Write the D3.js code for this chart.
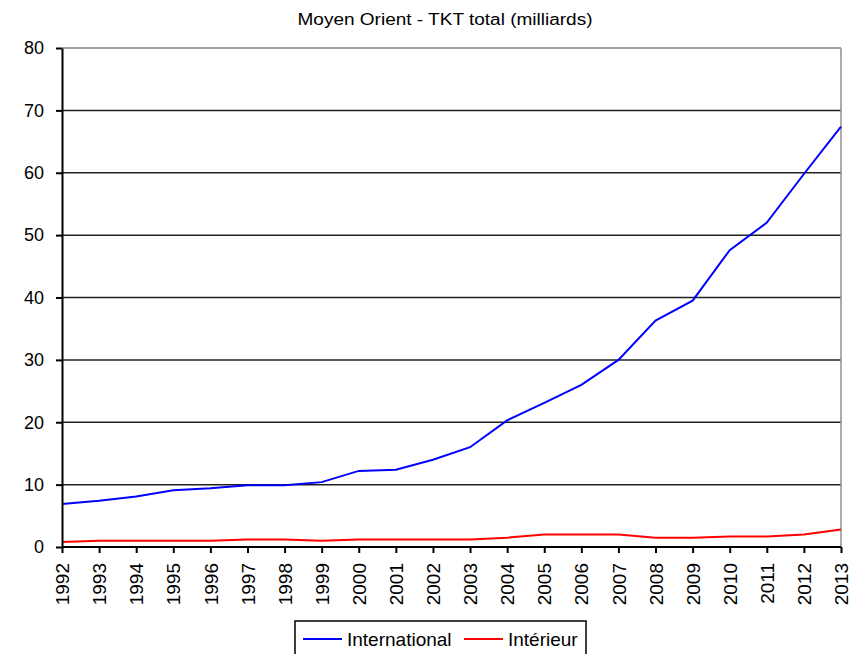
<!DOCTYPE html>
<html lang="fr">
<head>
<meta charset="utf-8">
<title>Moyen Orient - TKT total</title>
<script src="https://cdn.jsdelivr.net/npm/d3@7"></script>
<style>
  body { margin: 0; background: #fff; }
  svg text { font-family: "Liberation Sans", Arial, sans-serif; fill: #000; }
  .axis path, .axis line { stroke: #000; stroke-width: 2px; }
  .grid line { stroke: #222; stroke-width: 1.5px; }
</style>
</head>
<body>
<svg id="chart" width="854" height="654"></svg>
<script>
// data
var years = ["1992","1993","1994","1995","1996","1997","1998","1999","2000","2001","2002",
             "2003","2004","2005","2006","2007","2008","2009","2010","2011","2012","2013"];
var international = [6.9, 7.4, 8.1, 9.1, 9.4, 9.9, 9.9, 10.4, 12.2, 12.4, 14.0,
                     16.0, 20.3, 23.1, 26.0, 30.0, 36.3, 39.5, 47.6, 52.0, 59.8, 67.4];
var interieur = [0.8, 1.0, 1.0, 1.0, 1.0, 1.2, 1.2, 1.0, 1.2, 1.2, 1.2,
                 1.2, 1.5, 2.0, 2.0, 2.0, 1.5, 1.5, 1.7, 1.7, 2.0, 2.8];
var yTicks = [0, 10, 20, 30, 40, 50, 60, 70, 80];
var series = [
  { name: "International", values: international, color: "#0000ff" },
  { name: "Intérieur", values: interieur, color: "#ff0000" }
];

var svg = d3.select("#chart");
var plotL = 62, plotR = 841, plotT = 48, plotB = 547;

var x = d3.scalePoint().domain(years).range([plotL, plotR]);
var y = d3.scaleLinear().domain([0, 80]).range([plotB, plotT]);

// title
svg.append("text")
    .attr("x", 445).attr("y", 25)
    .attr("text-anchor", "middle")
    .attr("textLength", 295)
    .attr("lengthAdjust", "spacingAndGlyphs")
    .style("font-size", "16px")
    .text("Moyen Orient - TKT total (milliards)");

// gridlines
svg.append("g").attr("class", "grid")
  .selectAll("line")
  .data(yTicks.filter(function(d) { return d > 0; }))
  .enter().append("line")
    .attr("x1", plotL).attr("x2", plotR)
    .attr("y1", function(d) { return y(d); })
    .attr("y2", function(d) { return y(d); })
    .style("stroke", function(d) { return d == 80 ? "#808080" : null; });

// right border
svg.append("line")
    .attr("x1", plotR).attr("x2", plotR)
    .attr("y1", plotT).attr("y2", plotB)
    .style("stroke", "#909090").style("stroke-width", "1.5px");

// lines
var line = d3.line()
    .x(function(d, i) { return x(years[i]); })
    .y(function(d) { return y(d); });

svg.append("g").selectAll("path")
  .data(series)
  .enter().append("path")
    .attr("d", function(d) { return line(d.values); })
    .attr("fill", "none")
    .attr("stroke", function(d) { return d.color; })
    .attr("stroke-width", 2);

// y axis
var yAxis = svg.append("g").attr("class", "axis")
    .attr("transform", "translate(" + plotL + ",0)")
    .call(d3.axisLeft(y).tickValues(yTicks).tickSize(6).tickPadding(12).tickSizeOuter(0));
yAxis.selectAll("text").style("font-size", "18px");

// x axis
var xAxis = svg.append("g").attr("class", "axis")
    .attr("transform", "translate(0," + plotB + ")")
    .call(d3.axisBottom(x).tickSize(6).tickSizeOuter(0));
xAxis.select(".domain").attr("d", "M" + plotL + ",0H" + plotR);
xAxis.selectAll("text")
    .style("font-size", "19px")
    .attr("text-anchor", "end")
    .attr("transform", "rotate(-90)")
    .attr("x", -16).attr("y", 0).attr("dy", "0.35em");

// legend
var legend = svg.append("g").attr("transform", "translate(295,621)");
legend.append("rect")
    .attr("width", 291).attr("height", 40)
    .attr("fill", "#fff").attr("stroke", "#000").attr("stroke-width", 1.5);
var legX = [8, 169];
var item = legend.selectAll("g.item")
  .data(series)
  .enter().append("g")
    .attr("class", "item")
    .attr("transform", function(d, i) { return "translate(" + legX[i] + ",18)"; });
item.append("line")
    .attr("x1", 0).attr("x2", 39)
    .attr("stroke", function(d) { return d.color; })
    .attr("stroke-width", 2);
item.append("text")
    .attr("x", 44).attr("dy", "0.35em")
    .style("font-size", "19px")
    .text(function(d) { return d.name; });
</script>
</body>
</html>
